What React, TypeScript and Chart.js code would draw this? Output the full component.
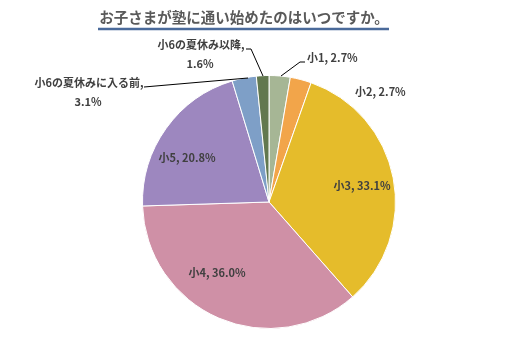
import React, { useEffect, useRef } from "react";
import { Chart, registerables } from "chart.js";

Chart.register(...registerables);

const title = "お子さまが塾に通い始めたのはいつですか。";
const categories = ["小1", "小2", "小3", "小4", "小5", "小6の夏休みに入る前", "小6の夏休み以降"];
const values = [2.7, 2.7, 33.1, 36.0, 20.8, 3.1, 1.6];
const colors = ["#A6B695", "#F2A54A", "#E5BC2B", "#CF90A6", "#9D87BF", "#7E9FC7", "#62784F"];

// label layout (offsets from pie center, px) : [x, y, align, twoLine]
type LabelLayout = { x: number; y: number; align: CanvasTextAlign; twoLine: boolean; leader?: number[][] };
const labelLayouts: LabelLayout[] = [
  { x: 38, y: -144, align: "left", twoLine: false, leader: [[36, -140], [31, -140], [12, -126]] },
  { x: 86, y: -110, align: "left", twoLine: false },
  { x: 93, y: -16, align: "center", twoLine: false },
  { x: -52, y: 71, align: "center", twoLine: false },
  { x: -82, y: -44, align: "center", twoLine: false },
  { x: -180, y: -119, align: "center", twoLine: true, leader: [[-125, -115], [-21, -124]] },
  { x: -68, y: -157, align: "center", twoLine: true, leader: [[-23, -153], [-18, -153], [-6, -126]] },
];

const labelPlugin = {
  id: "customLabels",
  afterDraw(chart: any) {
    const ctx = chart.ctx as CanvasRenderingContext2D;
    // title
    ctx.save();
    ctx.font = "bold 14.5px 'Noto Sans CJK JP'";
    ctx.fillStyle = "#595959";
    ctx.textAlign = "center";
    ctx.textBaseline = "middle";
    ctx.fillText(title, 244, 17);
    ctx.strokeStyle = "#4A6A9A";
    ctx.lineWidth = 2.5;
    ctx.beginPath();
    ctx.moveTo(98, 29);
    ctx.lineTo(389, 29);
    ctx.stroke();

    const meta = chart.getDatasetMeta(0);
    const arc0 = meta.data[0];
    const cx = arc0.x;
    const cy = arc0.y;
    ctx.font = "bold 11px 'Noto Sans CJK JP'";
    ctx.fillStyle = "#404040";
    ctx.strokeStyle = "#000000";
    ctx.lineWidth = 1;
    categories.forEach((cat, i) => {
      const L = labelLayouts[i];
      const pct = values[i].toFixed(1) + "%";
      ctx.textAlign = L.align;
      if (L.twoLine) {
        ctx.fillText(cat + ",", cx + L.x, cy + L.y);
        ctx.fillText(pct, cx + L.x - 1, cy + L.y + 19);
      } else {
        ctx.fillText(cat + ", " + pct, cx + L.x, cy + L.y);
      }
      if (L.leader) {
        ctx.beginPath();
        L.leader.forEach((p, j) => {
          if (j === 0) ctx.moveTo(cx + p[0], cy + p[1]);
          else ctx.lineTo(cx + p[0], cy + p[1]);
        });
        ctx.stroke();
      }
    });
    ctx.restore();
  },
};

export default function App() {
  const ref = useRef<HTMLCanvasElement>(null);
  useEffect(() => {
    const chart = new Chart(ref.current!, {
      type: "pie",
      data: {
        labels: categories,
        datasets: [
          {
            data: values,
            backgroundColor: colors,
            borderColor: "#FFFFFF",
            borderWidth: 1,
          },
        ],
      },
      options: {
        animation: false,
        responsive: false,
        layout: { padding: { left: 142, right: 122, top: 75, bottom: 9 } },
        plugins: {
          legend: { display: false },
          tooltip: { enabled: false },
          title: { display: false },
        },
      },
      plugins: [labelPlugin],
    });
    return () => chart.destroy();
  }, []);
  return (
    <div style={{ position: "fixed", left: 0, top: 0, width: 518, height: 338, background: "#FFFFFF" }}>
      <canvas ref={ref} width={518} height={338} style={{ width: 518, height: 338 }} />
    </div>
  );
}
